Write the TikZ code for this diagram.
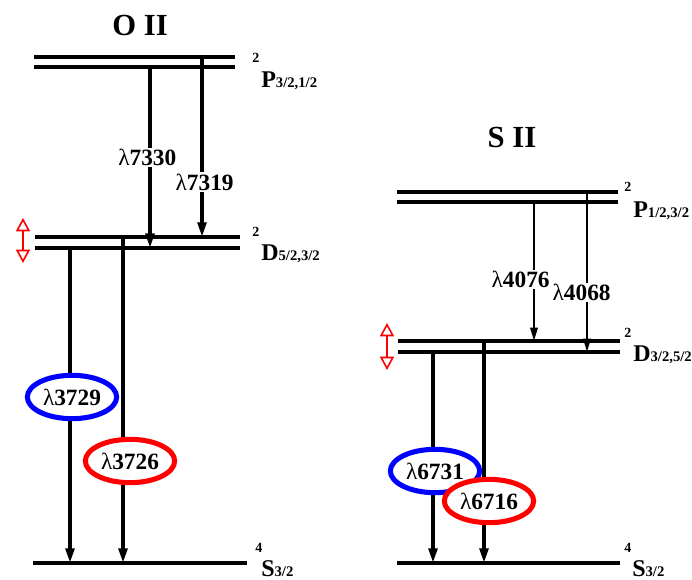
\documentclass[tikz,border=0pt]{standalone}
\usepackage{fontspec}
\setmainfont{Liberation Serif}
\usetikzlibrary{arrows.meta,shapes.geometric}

% small index printed on the baseline of a term symbol
\newcommand\termidx[1]{{\fontsize{11}{12}\selectfont #1}}
\newcommand\lam{{\mdseries λ}}

\begin{document}
\begin{tikzpicture}[x=0.75pt,y=-0.75pt,
  level/.style={line width=3.2pt},
  trans/.style={line width=2.6pt,-{Triangle[length=11pt,width=6.5pt]}},
  fine trans/.style={line width=1.7pt,-{Triangle[length=10pt,width=5.5pt]}},
  wl/.style={fill=white,inner sep=1pt,font=\fontsize{17.5}{19}\selectfont\bfseries},
  ring/.style={ellipse,draw=#1,line width=3.8pt,fill=white,minimum width=67pt,
    minimum height=32.5pt,inner sep=0pt,font=\fontsize{17.5}{19}\selectfont\bfseries},
  split/.style={red,line width=1.2pt,
    {Triangle[open,length=10pt,width=10.5pt]}-{Triangle[open,length=10pt,width=10.5pt]}},
  title/.style={font=\fontsize{23}{26}\selectfont\bfseries},
  term/.style={anchor=base west,inner sep=0pt,font=\fontsize{18}{20}\selectfont\bfseries},
  mult/.style={anchor=base west,inner sep=0pt,font=\fontsize{10.5}{12}\selectfont\bfseries},
]
\useasboundingbox (0,0) rectangle (692,580);

% ---------------- O II ----------------
\node[title] (otitle) at (140,26) {O II};

\draw[level] (34,57) -- (235,57);
\draw[level] (34,67) -- (235,67);
\draw[level] (35,237) -- (240,237);
\draw[level] (35,248) -- (240,248);
\draw[level] (33,563) -- (247,563);

\node[mult] (oPm) at (252,63) {2};
\node[term] (oPt) at (261,88) {P\termidx{3/2,1/2}};
\node[mult] (oDm) at (252,237) {2};
\node[term] (oDt) at (261,261) {D\termidx{5/2,3/2}};
\node[mult] (oSm) at (255,552) {4};
\node[term] (oSt) at (261,576) {S\termidx{3/2}};

\coordinate (o7330a) at (150,67);  \coordinate (o7330b) at (150,248);
\coordinate (o7319a) at (202,57);  \coordinate (o7319b) at (202,237);
\coordinate (o3729a) at (70,248);  \coordinate (o3729b) at (70,563);
\coordinate (o3726a) at (123,237); \coordinate (o3726b) at (123,563);

\draw[trans] (o7330a) -- (o7330b) node[wl,pos=0.5,xshift=-2pt] (l7330) {\lam7330};
\draw[trans] (o7319a) -- (o7319b) node[wl,pos=0.695,xshift=2pt] (l7319) {\lam7319};
\draw[trans] (o3729a) -- (o3729b);
\draw[trans] (o3726a) -- (o3726b);

\node[ring=blue] (r3729) at (72,397) {\lam3729};
\node[ring=red]  (r3726) at (130,461) {\lam3726};

\draw[split] (23,218) -- (23,263);

% ---------------- S II ----------------
\node[title] (stitle) at (512,138) {S II};

\draw[level] (397,192) -- (618,192);
\draw[level] (397,202) -- (618,202);
\draw[level] (398,341) -- (620,341);
\draw[level] (398,352) -- (620,352);
\draw[level] (397,563) -- (620,563);

\node[mult] (sPm) at (624,192) {2};
\node[term] (sPt) at (633,218) {P\termidx{1/2,3/2}};
\node[mult] (sDm) at (624,338) {2};
\node[term] (sDt) at (633,362) {D\termidx{3/2,5/2}};
\node[mult] (sSm) at (624,552) {4};
\node[term] (sSt) at (632,576) {S\termidx{3/2}};

\coordinate (s4076a) at (534,202); \coordinate (s4076b) at (534,341);
\coordinate (s4068a) at (587,192); \coordinate (s4068b) at (587,352);
\coordinate (s6731a) at (433,352); \coordinate (s6731b) at (433,563);
\coordinate (s6716a) at (484,341); \coordinate (s6716b) at (484,563);

\draw[fine trans] (s4076a) -- (s4076b) node[wl,pos=0.56,xshift=-10pt] (l4076) {\lam4076};
\draw[fine trans] (s4068a) -- (s4068b) node[wl,pos=0.63,xshift=-4pt] (l4068) {\lam4068};
\draw[trans] (s6731a) -- (s6731b);
\draw[trans] (s6716a) -- (s6716b);

\node[ring=blue] (r6731) at (435,471) {\lam6731};
\node[ring=red]  (r6716) at (489,501) {\lam6716};

\draw[split] (387,323) -- (387,370);
\end{tikzpicture}
\end{document}
